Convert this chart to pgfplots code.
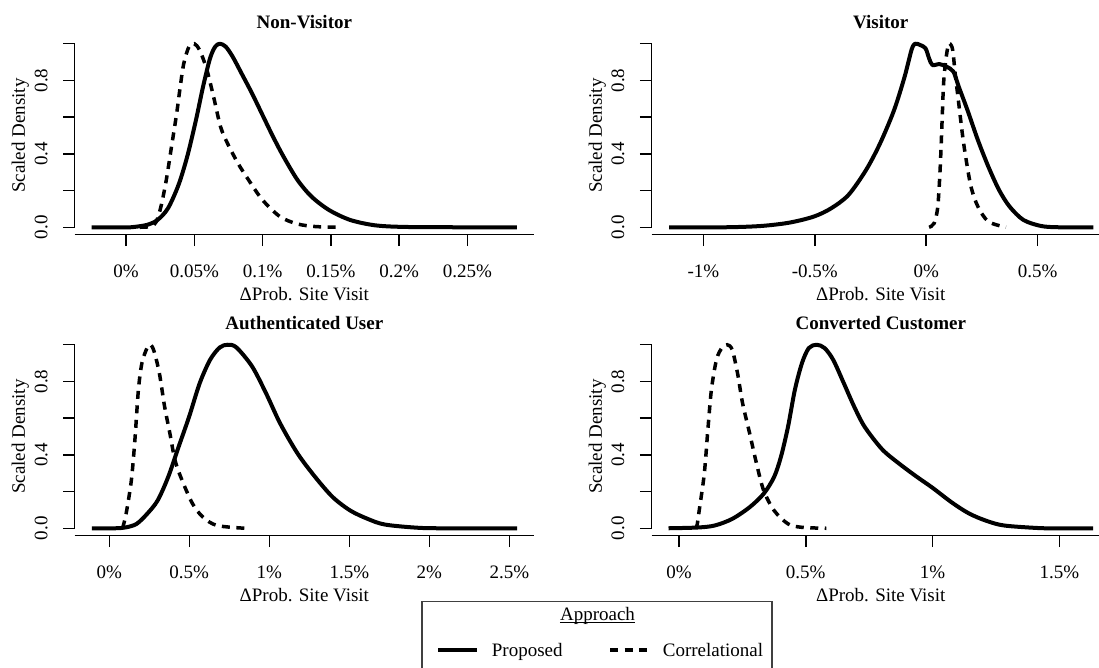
\documentclass[border=0pt]{standalone}
\usepackage{fontspec}
\setmainfont{Liberation Serif}
\usepackage{pgfplots}
\pgfplotsset{compat=1.18}

\newcommand{\chartfont}{\fontsize{19pt}{22pt}\selectfont}

\pgfplotsset{
  panel/.style={
    scale only axis, height=198.2pt, clip=false,
    ymin=-0.04, ymax=1.04,
    ytick={0,0.2,0.4,0.6,0.8,1}, yticklabels={0.0,,0.4,,0.8,},
    axis line style={draw=none},
    tick pos=left, tick align=outside, major tick length=11.6pt,
    tick style={black, line width=1.5pt},
    tick label style={font=\chartfont, inner sep=0pt},
    xticklabel style={anchor=base}, xticklabel shift=31.7pt,
    yticklabel style={rotate=90, anchor=base}, yticklabel shift=15.7pt,
    every axis title shift=0pt,
    title style={at={(axis description cs:0.5,1.0414)}, anchor=base,
      font=\bfseries\chartfont, inner sep=0pt},
    label style={font=\chartfont, inner sep=0pt},
    xlabel style={at={(axis description cs:0.5,-0.3305)}, anchor=base},
    ylabel style={at={(axis description cs:-0.1083,0.5)}, anchor=base},
    xlabel={ΔProb. Site Visit}, ylabel={Scaled Density},
  },
  proposed/.style={black, line width=4pt, smooth, line join=round},
  correl/.style={black, line width=3.5pt, smooth, dash pattern=on 8pt off 6.5pt},
}

% axis lines in the base-graphics style: full-width x line, y line over 0..1
\newcommand{\panelaxes}{%
  \draw[line width=1.5pt] (rel axis cs:0,0) -- (rel axis cs:1,0);
  \draw[line width=1.5pt] (rel axis cs:0,0.037037) -- (rel axis cs:0,0.962963);
}

\begin{document}
\begin{tikzpicture}

% ---------------- Non-Visitor ----------------
\begin{axis}[panel, at={(74.7pt,432.4pt)}, anchor=south west, width=459.3pt,
  xmin=-0.03756, xmax=0.29866,
  xtick={0,0.05,0.1,0.15,0.2,0.25},
  xticklabels={0\%,0.05\%,0.1\%,0.15\%,0.2\%,0.25\%},
  title={Non-Visitor}]
\panelaxes
\addplot[proposed] coordinates {
(-0.0251,0) (0.000,0) (0.0051,0.001) (0.0154,0.013) (0.0231,0.040) (0.0307,0.103)
(0.0384,0.230) (0.0448,0.385) (0.0512,0.584) (0.0564,0.766) (0.0615,0.920)
(0.0653,0.984) (0.0687,1.0) (0.0730,0.984) (0.0781,0.929) (0.0846,0.838)
(0.0922,0.730) (0.0999,0.612) (0.1076,0.494) (0.1153,0.385) (0.1255,0.258)
(0.1358,0.167) (0.1486,0.094) (0.1640,0.040) (0.1819,0.011) (0.2024,0.002)
(0.2408,0) (0.2862,0)};
\addplot[correl] coordinates {
(0.0102,0) (0.0180,0.004) (0.0220,0.028) (0.0256,0.113) (0.0295,0.258)
(0.0333,0.439) (0.0371,0.621) (0.0397,0.766) (0.0423,0.893) (0.0461,0.984)
(0.0500,1.0) (0.0538,0.966) (0.0589,0.866) (0.0641,0.711) (0.0692,0.548)
(0.0743,0.457) (0.0820,0.348) (0.0897,0.258) (0.0999,0.149) (0.1127,0.058)
(0.1255,0.018) (0.1384,0.004) (0.1537,0)};
\end{axis}

% ---------------- Visitor ----------------
\begin{axis}[panel, at={(651.5pt,432.4pt)}, anchor=south west, width=458.5pt,
  xmin=-1.233, xmax=0.825,
  xtick={-1,-0.5,0,0.5},
  xticklabels={-1\%,-0.5\%,0\%,0.5\%},
  title={Visitor}]
\panelaxes
\addplot[proposed] coordinates {
(-1.154,0) (-0.898,0) (-0.741,0.007) (-0.615,0.025) (-0.505,0.058) (-0.427,0.103)
(-0.349,0.176) (-0.270,0.312) (-0.207,0.457) (-0.144,0.639) (-0.097,0.820)
(-0.066,0.966) (-0.050,1.0) (-0.027,0.993) (-0.003,0.975) (0.013,0.920)
(0.028,0.884) (0.060,0.889) (0.091,0.875) (0.122,0.848) (0.146,0.766)
(0.185,0.639) (0.232,0.475) (0.279,0.330) (0.327,0.203) (0.374,0.113)
(0.436,0.040) (0.515,0.007) (0.593,0) (0.750,0)};
\addplot[correl] coordinates {
(0.013,0) (0.036,0.022) (0.052,0.113) (0.063,0.330) (0.072,0.603) (0.078,0.784)
(0.088,0.911) (0.099,0.993) (0.107,1.0) (0.119,0.966) (0.130,0.838)
(0.146,0.675) (0.162,0.512) (0.177,0.385) (0.201,0.221) (0.232,0.113)
(0.279,0.031) (0.358,0)};
\end{axis}

% ---------------- Authenticated User ----------------
\begin{axis}[panel, at={(74.7pt,131.4pt)}, anchor=south west, width=459.3pt,
  xmin=-0.216, xmax=2.654,
  xtick={0,0.5,1,1.5,2,2.5},
  xticklabels={0\%,0.5\%,1\%,1.5\%,2\%,2.5\%},
  title={Authenticated User}]
\panelaxes
\addplot[proposed] coordinates {
(-0.109,0) (0.039,0) (0.105,0.005) (0.171,0.024) (0.236,0.078) (0.302,0.151)
(0.368,0.279) (0.433,0.443) (0.499,0.608) (0.565,0.790) (0.630,0.918)
(0.690,0.985) (0.740,1.0) (0.795,0.985) (0.893,0.881) (0.980,0.735)
(1.068,0.571) (1.177,0.407) (1.287,0.279) (1.396,0.170) (1.505,0.097)
(1.615,0.051) (1.724,0.020) (1.943,0.002) (2.162,0) (2.549,0)};
\addplot[correl] coordinates {
(0.083,0) (0.105,0.078) (0.138,0.261) (0.160,0.480) (0.182,0.754) (0.204,0.900)
(0.236,0.982) (0.258,1.0) (0.280,0.964) (0.313,0.845) (0.346,0.662)
(0.379,0.516) (0.411,0.370) (0.455,0.261) (0.521,0.133) (0.586,0.060)
(0.674,0.015) (0.849,0)};
\end{axis}

% ---------------- Converted Customer ----------------
\begin{axis}[panel, at={(651.5pt,131.4pt)}, anchor=south west, width=458.5pt,
  xmin=-0.108, xmax=1.699,
  xtick={0,0.5,1,1.5},
  xticklabels={0\%,0.5\%,1\%,1.5\%},
  title={Converted Customer}]
\panelaxes
\addplot[proposed] coordinates {
(-0.041,0) (0.073,0.004) (0.141,0.015) (0.210,0.051) (0.279,0.115) (0.334,0.188)
(0.375,0.279) (0.402,0.389) (0.430,0.553) (0.457,0.754) (0.485,0.900)
(0.512,0.982) (0.543,1.0) (0.574,0.982) (0.608,0.918) (0.650,0.790)
(0.691,0.662) (0.732,0.553) (0.801,0.430) (0.870,0.350) (0.938,0.280)
(1.000,0.220) (1.076,0.140) (1.144,0.080) (1.213,0.040) (1.282,0.015)
(1.419,0.001) (1.500,0) (1.632,0)};
\addplot[correl] coordinates {
(0.066,0) (0.072,0.020) (0.080,0.097) (0.100,0.297) (0.114,0.535) (0.128,0.754)
(0.148,0.918) (0.169,0.982) (0.190,1.0) (0.210,0.973) (0.231,0.845)
(0.251,0.681) (0.279,0.516) (0.306,0.352) (0.334,0.206) (0.375,0.097)
(0.430,0.024) (0.485,0.005) (0.581,0)};
\end{axis}

% ---------------- legend ----------------
\draw[line width=1.3pt, black!75] (422pt,65.3pt) rectangle (772pt,-20pt);
\node[font=\chartfont, inner sep=0pt, anchor=base] (appr) at (597.5pt,47pt) {Approach};
\draw[line width=1.2pt] ([yshift=-2.3pt]appr.base west) -- ([yshift=-2.3pt]appr.base east);
\draw[black, line width=4pt] (438.3pt,17pt) -- (476.7pt,17pt);
\node[font=\chartfont, inner sep=0pt, anchor=base west] at (491.7pt,11pt) {Proposed};
\draw[black, line width=3.5pt, dash pattern=on 8pt off 6.5pt] (610pt,17pt) -- (647pt,17pt);
\node[font=\chartfont, inner sep=0pt, anchor=base west] at (662.7pt,11pt) {Correlational};

\pgfresetboundingbox
\useasboundingbox (0pt,0pt) rectangle (1099pt,667pt);
\end{tikzpicture}
\end{document}
